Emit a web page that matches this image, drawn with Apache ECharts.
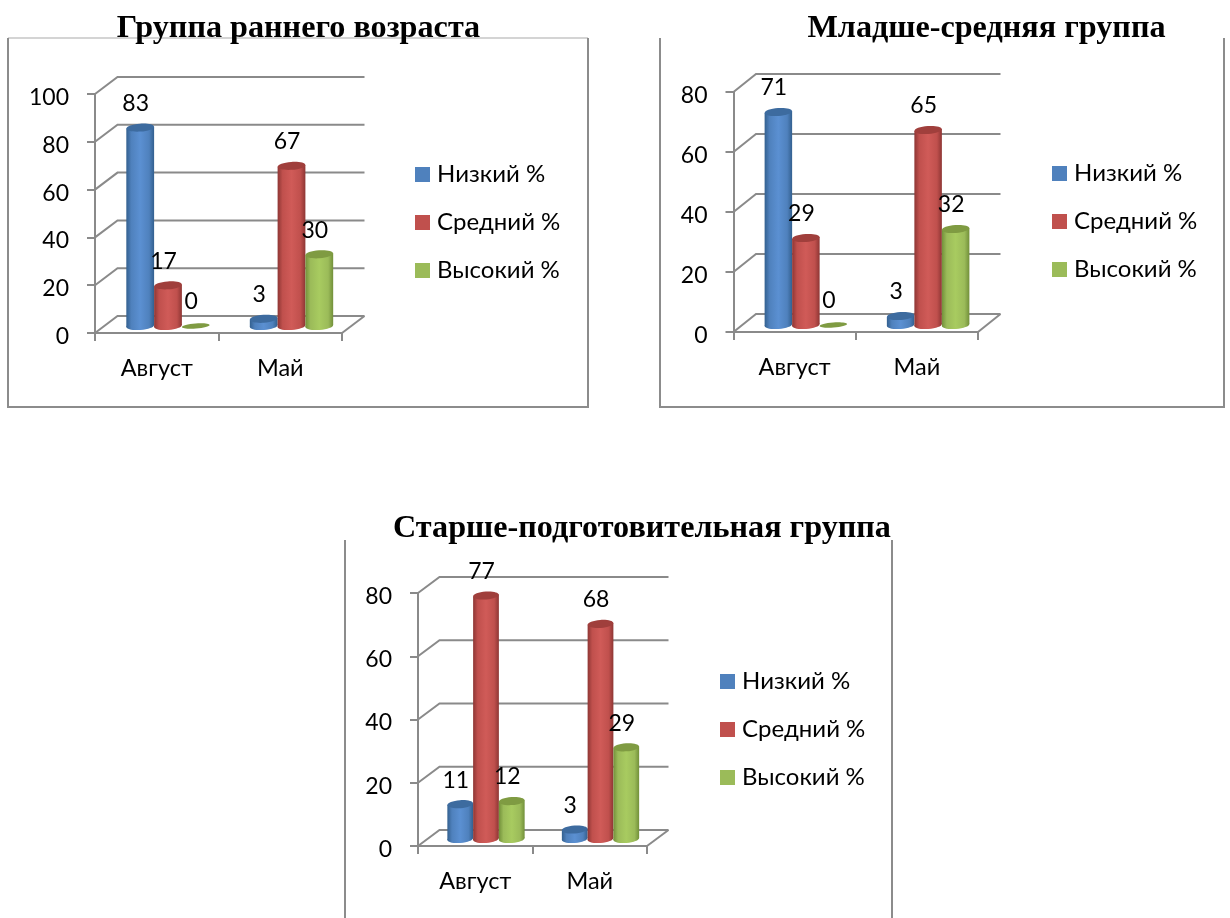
<!DOCTYPE html>
<html><head><meta charset="utf-8">
<style>html,body{margin:0;padding:0;background:#fff}#c{width:1230px;height:918px}</style>
<script src="https://cdn.jsdelivr.net/npm/echarts@6/dist/echarts.min.js"></script>
</head><body><div id="c"></div>
<script>
const categories = ['Август', 'Май'];
const seriesNames = ['Низкий %', 'Средний %', 'Высокий %'];
const earlyLow = [83, 3], earlyMid = [17, 67], earlyHigh = [0, 30];
const juniorLow = [71, 3], juniorMid = [29, 65], juniorHigh = [0, 32];
const seniorLow = [11, 3], seniorMid = [77, 68], seniorHigh = [12, 29];
const ticks100 = [0, 20, 40, 60, 80, 100];
const ticks80 = [0, 20, 40, 60, 80];
const titles = ['Группа раннего возраста', 'Младше-средняя группа', 'Старше-подготовительная группа'];

const FONT = 'Lato, "Noto Sans", sans-serif';
const GRID = '#8a8a8a';
const LEG_H = 24;
const charts = [
  {title: titles[0], titleX: 293.5, titleY: 24, vals: [earlyLow, earlyMid, earlyHigh], ticks: ticks100, max: 100,
   left: 95, right: 342, top: 94, bottom: 333, dx: 22.5, dy: 17, legX: 415, legY: 167},
  {title: titles[1], titleX: 981.5, titleY: 24, vals: [juniorLow, juniorMid, juniorHigh], ticks: ticks80, max: 80,
   left: 733.5, right: 978, top: 92, bottom: 332, dx: 22.5, dy: 18, legX: 1052, legY: 166},
  {title: titles[2], titleX: 637, titleY: 524, vals: [seniorLow, seniorMid, seniorHigh], ticks: ticks80, max: 80,
   left: 418, right: 647, top: 593, bottom: 846, dx: 21.5, dy: 16, legX: 720, legY: 674}
];
const palette = [
  {base: '#4f81bd', edge: '#33608f', light: '#5b90d2', top: '#3d6b9f'},
  {base: '#c0504d', edge: '#8e3634', light: '#d05b58', top: '#a03f3c'},
  {base: '#9bbb59', edge: '#72903a', light: '#a8cb60', top: '#7f9b42'}
];
function grad(p) {
  return {type: 'linear', x: 0, y: 0, x2: 1, y2: 0, colorStops: [
    {offset: 0, color: p.edge}, {offset: 0.18, color: p.base}, {offset: 0.5, color: p.light},
    {offset: 0.82, color: p.base}, {offset: 1, color: p.edge}]};
}
const TILT = 0.07;
const grids = [], xAxes = [], yAxes = [], series = [], legends = [], titleOpts = [];
charts.forEach((c, ci) => {
  grids.push({left: c.left, top: c.top, width: c.right - c.left, height: c.bottom - c.top, containLabel: false});
  titleOpts.push({text: c.title, left: c.titleX, top: c.titleY, textAlign: 'center', textVerticalAlign: 'middle',
    textStyle: {fontFamily: '"Liberation Serif", serif', fontWeight: 'bold', fontSize: 32.2, color: '#000'}});
  xAxes.push({type: 'category', gridIndex: ci, data: categories,
    axisLine: {show: true, lineStyle: {color: GRID, width: 2}},
    axisTick: {show: true, length: 8, alignWithLabel: false, lineStyle: {color: GRID, width: 2}},
    axisLabel: {fontFamily: FONT, fontSize: 23.5, color: '#000', margin: 23}});
  yAxes.push({type: 'value', gridIndex: ci, min: 0, max: c.max, interval: 20,
    axisLine: {show: true, lineStyle: {color: GRID, width: 2}},
    axisTick: {show: true, length: 8, lineStyle: {color: GRID, width: 2}},
    axisLabel: {fontFamily: FONT, fontSize: 23, color: '#000', margin: 26, verticalAlign: 'top', lineHeight: 7},
    splitLine: {show: false}});
  // back wall and floor
  series.push({type: 'custom', xAxisIndex: ci, yAxisIndex: ci, silent: true, z: 1, clip: false,
    data: c.ticks.map(t => [0, t]), encode: {x: 0, y: 1},
    renderItem(params, api) {
      const y = api.coord([0, api.value(1)])[1];
      const cs = params.coordSys, L = cs.x, R = cs.x + cs.width;
      const style = {stroke: GRID, lineWidth: 2, fill: null};
      const kids = [{type: 'polyline', shape: {points: [[L, y], [L + c.dx, y - c.dy], [R + c.dx, y - c.dy]]}, style}];
      if (api.value(1) === 0) kids.push({type: 'line', shape: {x1: R, y1: y, x2: R + c.dx, y2: y - c.dy}, style});
      return {type: 'group', children: kids};
    }});
  c.vals.forEach((vals, si) => {
    const p = palette[si];
    series.push({type: 'custom', name: seriesNames[si], xAxisIndex: ci, yAxisIndex: ci, z: 2 + si, clip: false,
      itemStyle: {color: p.base},
      data: vals.map((v, i) => [i, v]), encode: {x: 0, y: 1},
      renderItem(params, api) {
        const v = api.value(1);
        const pt = api.coord([api.value(0), v]);
        const base = api.coord([api.value(0), 0]);
        const band = api.size([1, 0])[0];
        const w = band * 0.225;
        const cx = pt[0] + c.dx / 2 + (si - 1) * w;
        const ty = pt[1] - 7, by = base[1] - 7;
        const rx = w / 2, ry = 4, t = rx * TILT;
        const ell = (y, fill, r) => ({type: 'ellipse', originX: cx, originY: y, rotation: TILT,
          shape: {cx, cy: y, rx, ry: r}, style: {fill}});
        const kids = [];
        if (v > 0) {
          kids.push(ell(by, grad(p), ry));
          kids.push({type: 'polygon', shape: {points: [[cx - rx, ty + t], [cx + rx, ty - t], [cx + rx, by - t], [cx - rx, by + t]]},
            style: {fill: grad(p)}});
          kids.push(ell(ty, p.top, ry));
        } else {
          kids.push(ell(by, p.top, 2.6));
        }
        kids.push({type: 'text', z2: 100, style: {x: cx - 4.5, y: ty - 24, text: String(v), align: 'center', verticalAlign: 'middle',
          fontFamily: FONT, fontSize: 23, fill: '#000'}});
        return {type: 'group', children: kids};
      }});
  });
  legends.push({orient: 'vertical', left: c.legX, top: c.legY - (LEG_H - 15) / 2, padding: 0, itemWidth: 15, itemHeight: 15, itemGap: 48 - LEG_H,
    data: seriesNames.map(n => ({name: n, icon: 'rect'})), selectedMode: false,
    textStyle: {fontFamily: FONT, fontSize: 24, color: '#000', padding: [1, 0, 0, 2]}});
});
const frame = (pts, color) => ({type: 'polyline', shape: {points: pts}, style: {stroke: color || '#8c8c8c', lineWidth: 2, fill: null}, silent: true});
const chart = echarts.init(document.getElementById('c'), null, {renderer: 'canvas'});
chart.setOption({
  animation: false, backgroundColor: '#fff',
  title: titleOpts, grid: grids, xAxis: xAxes, yAxis: yAxes, series, legend: legends,
  graphic: [
    frame([[8, 38], [588, 38]], '#d4d4d4'),
    frame([[8, 38], [8, 407], [588, 407], [588, 38]]),
    frame([[660, 38], [660, 407], [1224, 407], [1224, 38]]),
    frame([[345, 540], [345, 918]]),
    frame([[892, 540], [892, 918]])
  ]
});
</script></body></html>
